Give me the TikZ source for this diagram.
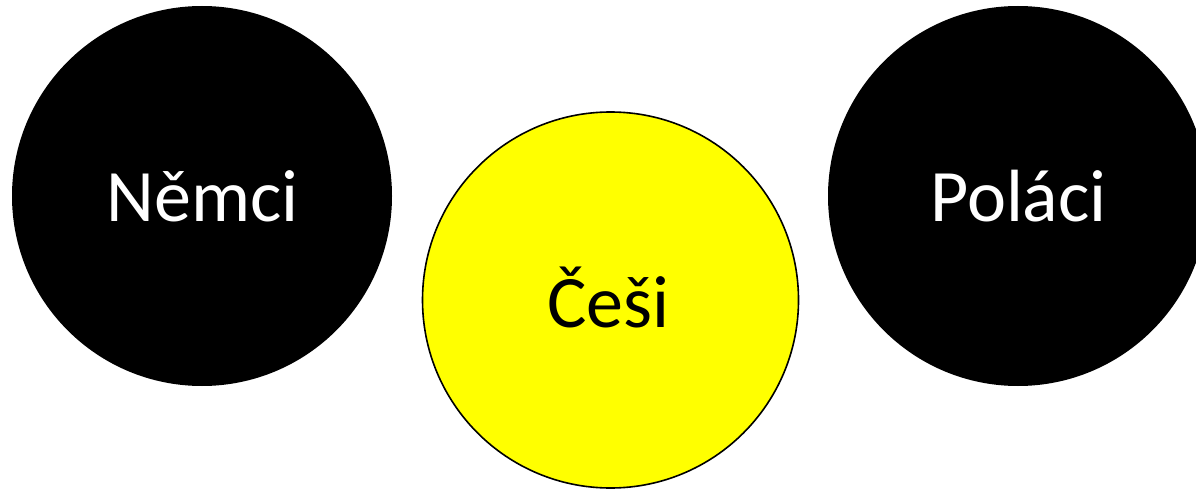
\documentclass[tikz,border=0pt]{standalone}
\usepackage{fontspec}
\setmainfont{Carlito}
\definecolor{pureyellow}{RGB}{255,255,0}
\begin{document}
\begin{tikzpicture}[x=1pt,y=-1pt,
  blackdisc/.style={fill=black,draw=none},
  yellowdisc/.style={fill=pureyellow,draw=black,line width=1.6pt},
  lbl/.style={font=\fontsize{74}{74}\selectfont,anchor=base,inner sep=0pt}]
\useasboundingbox (0,0) rectangle (1196,489);
\clip (0,0) rectangle (1196,489);
\fill[white] (0,0) rectangle (1196,489);
\path[blackdisc] (202,196) circle[radius=190];
\path[blackdisc] (1018,196) circle[radius=190];
\path[yellowdisc] (610.5,300) circle[radius=188];
\node[lbl,text=white] (nemci) at (202.5,222) {Němci};
\node[lbl,text=white] (polaci) at (1018.5,222) {Poláci};
\node[lbl,text=black] (cesi) at (608.5,327) {Češi};
\end{tikzpicture}
\end{document}
